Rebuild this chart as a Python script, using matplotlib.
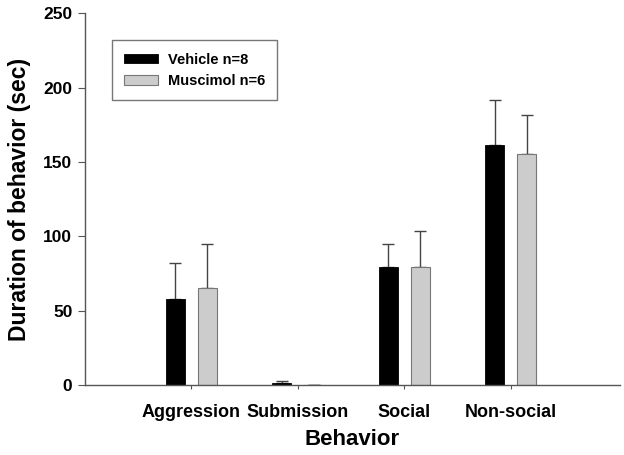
import numpy as np
import matplotlib
matplotlib.use("Agg")
import matplotlib.pyplot as plt

categories = ["Aggression", "Submission", "Social", "Non-social"]
vehicle = [57.8, 1.5, 79.1, 161.3]
vehicle_err = [24.4, 1.2, 15.7, 30.4]
muscimol = [65.4, 0.0, 79.1, 155.2]
muscimol_err = [29.1, 0.0, 24.2, 26.4]

plt.rcParams["font.family"] = ["Liberation Sans", "DejaVu Sans"]
plt.rcParams["font.weight"] = "bold"

fig = plt.figure(figsize=(6.24, 4.55), dpi=100)
ax = fig.add_axes([0.136, 0.154, 0.858, 0.817])

x = np.arange(1, len(categories) + 1)
w = 0.18
off = 0.15
axis_col = "#555555"
err_col = "#444444"

ax.bar(x - off, vehicle, w, color="black", edgecolor="black", linewidth=0.6,
       label="Vehicle n=8", zorder=2)
ax.bar(x + off, muscimol, w, color="#cccccc", edgecolor="#777777", linewidth=0.8,
       label="Muscimol n=6", zorder=2)
ax.errorbar(x - off, vehicle, yerr=[np.zeros(4), vehicle_err], fmt="none",
            ecolor=err_col, elinewidth=1, capsize=4, capthick=1, zorder=1)
ax.errorbar(x + off, muscimol, yerr=[np.zeros(4), muscimol_err], fmt="none",
            ecolor=err_col, elinewidth=1, capsize=4, capthick=1, zorder=1)

ax.set_xlim(0, 5.03)
ax.set_ylim(0, 250)
ax.set_yticks([0, 50, 100, 150, 200, 250])
ax.set_xticks(x)
ax.set_xticklabels(categories, fontsize=13, fontweight="bold")
for lab in ax.get_yticklabels():
    lab.set_fontsize(12.5)
    lab.set_fontweight("bold")

for s in ["top", "right"]:
    ax.spines[s].set_visible(False)
for s in ["left", "bottom"]:
    ax.spines[s].set_color(axis_col)
    ax.spines[s].set_linewidth(1)
ax.tick_params(axis="y", direction="out", length=5, color=axis_col, pad=4)
ax.tick_params(axis="x", direction="out", length=3, color=axis_col, pad=10.5)

ax.set_xlabel("Behavior", fontsize=16, fontweight="bold", labelpad=6)
ax.set_ylabel("Duration of behavior (sec)", fontsize=16.5, fontweight="bold", labelpad=9)

leg = ax.legend(loc="upper left", bbox_to_anchor=(0.05, 0.927), fontsize=10.5,
                frameon=True, fancybox=False, edgecolor="#555555",
                handlelength=2.3, handleheight=0.6, handletextpad=0.7,
                borderpad=0.85, labelspacing=0.5, borderaxespad=0)
leg.get_frame().set_linewidth(1)
for t in leg.get_texts():
    t.set_fontweight("bold")

fig.savefig("out.png", dpi=100)
